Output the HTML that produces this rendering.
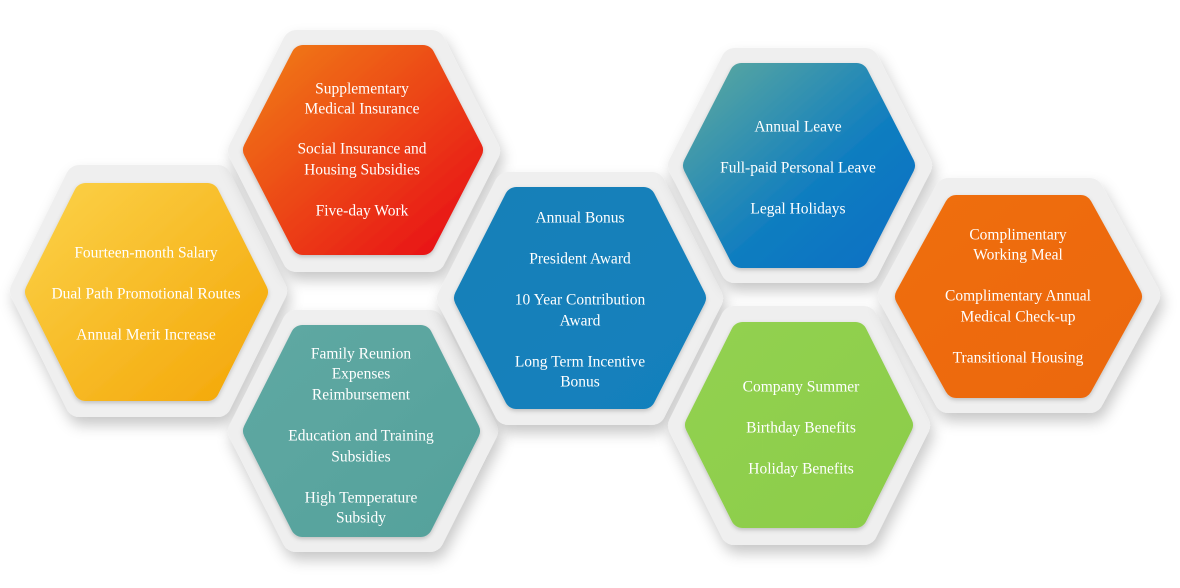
<!DOCTYPE html>
<html><head><meta charset="utf-8"><style>
html,body{margin:0;padding:0;background:#fff;}
svg{display:block;}
svg text{font-family:"Liberation Serif","Times New Roman",serif !important;font-size:15.5px;fill:#fff;text-anchor:middle;dominant-baseline:middle;}
</style></head><body>
<svg id="s" width="1180" height="588" viewBox="0 0 1180 588" xmlns="http://www.w3.org/2000/svg" font-family="Liberation Serif, serif">
<defs>
<filter id="sh" x="-20%" y="-20%" width="140%" height="150%"><feDropShadow dx="3" dy="8" stdDeviation="7" flood-color="#000" flood-opacity="0.22"/></filter>
<filter id="ish" x="-10%" y="-10%" width="120%" height="120%"><feDropShadow dx="0" dy="2" stdDeviation="2" flood-color="#000" flood-opacity="0.2"/></filter>
<linearGradient id="gy" x1="0" y1="0" x2="1" y2="1"><stop offset="0" stop-color="#fbd046"/><stop offset="1" stop-color="#f4a80a"/></linearGradient>
<linearGradient id="gr" x1="0" y1="0" x2="1" y2="1"><stop offset="0" stop-color="#f07a18"/><stop offset="1" stop-color="#e80e16"/></linearGradient>
<linearGradient id="gt" x1="0" y1="0" x2="1" y2="1"><stop offset="0" stop-color="#5ea8a2"/><stop offset="1" stop-color="#56a29c"/></linearGradient>
<linearGradient id="gb" x1="0" y1="0" x2="1" y2="1"><stop offset="0" stop-color="#1680b8"/><stop offset="1" stop-color="#1180bd"/></linearGradient>
<linearGradient id="gb2" x1="0" y1="0" x2="1" y2="1"><stop offset="0" stop-color="#5aa7a0"/><stop offset="0.6" stop-color="#0f7dc0"/><stop offset="1" stop-color="#0870c4"/></linearGradient>
<linearGradient id="gg" x1="0" y1="0" x2="1" y2="1"><stop offset="0" stop-color="#92d150"/><stop offset="1" stop-color="#8ccd4a"/></linearGradient>
<linearGradient id="go" x1="0" y1="0" x2="1" y2="1"><stop offset="0" stop-color="#ef6e0c"/><stop offset="1" stop-color="#ec6808"/></linearGradient>
</defs>
<g id="hx"></g>
<g font-family="Liberation Serif, serif" transform="translate(0,2)">
<text x="146" y="252">Fourteen-month Salary</text>
<text x="146" y="293">Dual Path Promotional Routes</text>
<text x="146" y="334">Annual Merit Increase</text>

<text x="362" y="88">Supplementary</text>
<text x="362" y="108">Medical Insurance</text>
<text x="362" y="148">Social Insurance and</text>
<text x="362" y="169">Housing  Subsidies</text>
<text x="362" y="210">Five-day Work</text>

<text x="361" y="353">Family Reunion</text>
<text x="361" y="373">Expenses</text>
<text x="361" y="394">Reimbursement</text>
<text x="361" y="435">Education and Training</text>
<text x="361" y="456">Subsidies</text>
<text x="361" y="497">High Temperature</text>
<text x="361" y="517">Subsidy</text>

<text x="580" y="217">Annual Bonus</text>
<text x="580" y="258">President Award</text>
<text x="580" y="299">10 Year Contribution</text>
<text x="580" y="320">Award</text>
<text x="580" y="361">Long Term Incentive</text>
<text x="580" y="381">Bonus</text>

<text x="798" y="126">Annual Leave</text>
<text x="798" y="167">Full-paid Personal Leave</text>
<text x="798" y="208">Legal Holidays</text>

<text x="801" y="386">Company Summer</text>
<text x="801" y="427">Birthday Benefits</text>
<text x="801" y="468">Holiday Benefits</text>

<text x="1018" y="234">Complimentary</text>
<text x="1018" y="254">Working Meal</text>
<text x="1018" y="295">Complimentary Annual</text>
<text x="1018" y="316">Medical Check-up</text>
<text x="1018" y="357">Transitional Housing</text>
</g>
</svg>
<script>
var NS="http://www.w3.org/2000/svg";
var g=document.getElementById("hx");
function pts(x0,y0,x1,y1,r){var W=x1-x0;x0+=r;y0+=r;x1-=r;y1-=r;var cy=(y0+y1)/2,d=W*0.2;
return [[x0,cy],[x0+d,y0],[x1-d,y0],[x1,cy],[x1-d,y1],[x0+d,y1]].map(function(p){return p.join(",")}).join(" ");}
function poly(p,fill,r,filt){var e=document.createElementNS(NS,"polygon");e.setAttribute("points",p);e.setAttribute("fill",fill);e.setAttribute("stroke",fill);e.setAttribute("stroke-width",2*r);e.setAttribute("stroke-linejoin","round");if(filt)e.setAttribute("filter",filt);g.appendChild(e);}
var H=[
[[10,165,287,417],[25,183,268,401],"url(#gy)"],
[[228,30,500,272],[243,45,483,255],"url(#gr)"],
[[228,310,498,552],[243,325,480,537],"url(#gt)"],
[[437,172,723,425],[454,187,706,409],"url(#gb)"],
[[668,48,932,283],[683,63,915,268],"url(#gb2)"],
[[668,306,930,545],[685,322,913,528],"url(#gg)"],
[[878,178,1160,413],[895,195,1142,398],"url(#go)"]];
H.forEach(function(h){var o=h[0],i=h[1];
poly(pts(o[0],o[1],o[2],o[3],14),"#efefef",14,"url(#sh)");
poly(pts(i[0],i[1],i[2],i[3],12),h[2],12,"url(#ish)");});
</script>
</body></html>
